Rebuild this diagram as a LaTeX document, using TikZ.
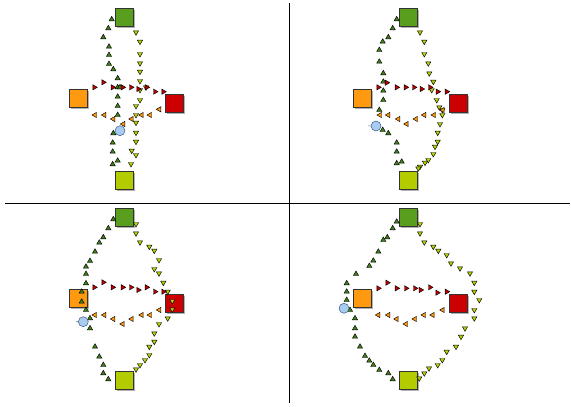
\documentclass[tikz,border=0pt]{standalone}
\usetikzlibrary{shapes.geometric}
\definecolor{sqgreen}{HTML}{5A9E1E}
\definecolor{sqorange}{HTML}{FF9A10}
\definecolor{sqred}{HTML}{CC0000}
\definecolor{sqyellow}{HTML}{B2CC00}
\definecolor{trigreen}{HTML}{3F7F1A}
\definecolor{triyellow}{HTML}{B8D000}
\definecolor{trired}{HTML}{C00000}
\definecolor{triorange}{HTML}{FF9A10}
\definecolor{bluefill}{HTML}{A8CCF0}
\definecolor{blueline}{HTML}{3A5A8A}
\tikzset{
  sq/.style={draw=black!80, line width=0.7pt, minimum size=18pt, inner sep=0pt},
  tri/.style={regular polygon, regular polygon sides=3, draw=black, line width=0.45pt, minimum size=6pt, inner sep=0pt},
  tup/.style={tri, fill=trigreen},
  tdown/.style={tri, fill=triyellow, shape border rotate=180},
  tright/.style={tri, fill=trired, shape border rotate=-90},
  tleft/.style={tri, fill=triorange, shape border rotate=90},
  agent/.style={circle, draw=blueline, fill=bluefill, line width=0.5pt, minimum size=10pt, inner sep=0pt},
  heading/.style={draw=black!60, line width=0.4pt},
  divider/.style={line width=0.6pt, black}
}
\newcommand\squares[3]{%
  \fill[black!30] (#2+1.5,#3+1.5) rectangle ++(18,18);
  \node[sq, fill=sqgreen, anchor=north west] (#1g) at (#2,#3) {};
  \fill[black!30] (#2-44.5,#3+82.5) rectangle ++(18,18);
  \node[sq, fill=sqorange, anchor=north west] (#1o) at (#2-46,#3+81) {};
  \fill[black!30] (#2+51.5,#3+87.5) rectangle ++(18,18);
  \node[sq, fill=sqred, anchor=north west] (#1r) at (#2+50,#3+86) {};
  \fill[black!30] (#2+1.5,#3+164.5) rectangle ++(18,18);
  \node[sq, fill=sqyellow, anchor=north west] (#1y) at (#2,#3+163) {};
}
\begin{document}
\begin{tikzpicture}[x=1pt,y=-1pt]
\useasboundingbox (0,0) rectangle (571,407);
\draw[divider] (289,3) -- (289,403);
\draw[divider] (5,203) -- (570,203);
% ---------- panel 1
\squares{a}{115}{8}
\foreach \x/\y in {111.7/19.3,108.3/28.3,103.3/37.3,109/46.7,109/55,109/64,113.3/69.3,117.7/78.3,117.7/87.3,120/87.3,117.7/96.7,117.7/106,117.7/115,113.3/133.3,112.7/142.7,112.7/151.7,112.7/164.3,117.7/160.7}
  \node[tup] at (\x,\y) {};
\foreach \x/\y in {136/32.3,140/41.7,140/54,140/63.3,140/71.7,140/81,140/90,146/87.3,140/100,136/106,136/115,136/122.7,136/132.7,136/141.7,131.7/150.7,136/155,131/164}
  \node[tdown] at (\x,\y) {};
\foreach \x/\y in {94.3/87.3,103.3/82.3,112.7/87.3,122.7/87.3,131/87.3,138.3/89,146.7/87.3,155/91.7,163.3/91.7}
  \node[tright] at (\x,\y) {};
\foreach \x/\y in {95/115,104.3/115,113.3/119,123.3/124,131.7/119,141.7/115,150/115,159.3/109.3}
  \node[tleft] at (\x,\y) {};
\node[agent] (ablue) at (120,130.7) {};
% ---------- panel 2
\squares{b}{399}{8}
\foreach \x/\y in {396.7/19.3,392.7/28.3,388.3/37.3,382.7/41.7,379.3/50,379.3/61.7,383.3/73.3,383.3/81.7,383.3/90.7,383.3/100,379.3/110,382.7/130,388.3/133.3,396.7/142.7,396.7/151.7,396.7/163.3,401.7/161.7}
  \node[tup] at (\x,\y) {};
\foreach \x/\y in {420/32.3,424.3/41.7,424.3/54,428.3/63.3,429.3/73.3,433.3/81.7,431.7/90,436.7/100,439.3/107.3,442.3/110,442.3/115,440/124,437.7/132.7,437.7/141.7,435/146.7,433.3/154,428.3/160,425/162.7,420/166.7,418.3/168.3}
  \node[tdown] at (\x,\y) {};
\foreach \x/\y in {378.3/87.3,386.7/82.7,396.7/87.3,405.7/87.3,414/87.3,421.7/89,430/87.3,437.7/91.7,446.7/91.7}
  \node[tright] at (\x,\y) {};
\foreach \x/\y in {380/115,388.3/115,398.3/119,406.7/124,416/119,424.3/115,434/115,442.7/110}
  \node[tleft] at (\x,\y) {};
\node[agent] (bblue) at (376,126) {};
\coordinate (bhead) at (368,125.7);
\draw[heading] (bblue.west) -- (bhead);
% ---------- panel 3
\squares{c}{115}{208}
\foreach \x/\y in {113.3/219.3,108.3/228.3,103.3/237.3,99.3/242.7,95/251.7,90/261,86/266.7,86/274,86/283.3,81.7/291.7,81.7/301.7,86/310,90/318.3,90/328.3,95/346.7,99.3/356.7,103.3/365,103.3/373.3,108.3/379.3}
  \node[tup] at (\x,\y) {};
\foreach \x/\y in {136/224,136/233.3,140/242.3,149.3/246.7,154.3/250.7,159/260,154.3/269,159/273.3,163.3/282.7,167.7/291.7,172.3/301,172.3/309.3,167.7/318.3,159/324,154.3/333.3,154.3/341.7,149.3/346.7,149.3/355,145/360,140/365,136/369.3}
  \node[tdown] at (\x,\y) {};
\foreach \x/\y in {94.3/287.3,103.3/282.3,112.7/287.3,122.7/287.3,131/287.3,138.3/290,146.7/287.3,155/291.7,163.3/291.7}
  \node[tright] at (\x,\y) {};
\foreach \x/\y in {95/315,104.3/315,113.3/319,122.7/324,131.7/319,141.7/315,150/315,159.3/310}
  \node[tleft] at (\x,\y) {};
\node[agent] (cblue) at (83.3,321.7) {};
\coordinate (chead) at (76,321.5);
\draw[heading] (cblue.west) -- (chead);
% ---------- panel 4
\squares{d}{399}{208}
\foreach \x/\y in {396.7/221.7,392.7/228.3,387.3/237.3,383.3/240,378.3/251.7,373.3/260.7,369.3/266,356/274,346.7/283.3,346.7/291.7,346.7/300,350/310,355/318.3,355/328.3,355/336.7,360/346.7,365/356,369.3/360.7,373.3/365,379.3/370,388.3/373.3,392.7/379.3}
  \node[tup] at (\x,\y) {};
\foreach \x/\y in {420/224,420/233.3,424.3/242.3,433.3/246.7,438.3/250.7,446.7/255,451/263.3,460/268.3,470/273.3,474.3/282.7,474.3/291.7,479.3/300,474.3/310,474.3/318.3,465/328.3,461/336.7,456/346.7,446.7/351.7,442.3/360,437.7/365,429/368.3,424.3/373.3,419.3/378.3}
  \node[tdown] at (\x,\y) {};
\foreach \x/\y in {378.3/288.3,387.3/282.7,396.7/288.3,406/288.3,415/288.3,420.7/290,430/287.3,437.3/292.7,446.7/291.7}
  \node[tright] at (\x,\y) {};
\foreach \x/\y in {378.3/315,388.3/315,396.7/319,406/324,415/319,424/315,432.7/315,442.7/310}
  \node[tleft] at (\x,\y) {};
\node[agent] (dblue) at (344,308.3) {};
\end{tikzpicture}
\end{document}
